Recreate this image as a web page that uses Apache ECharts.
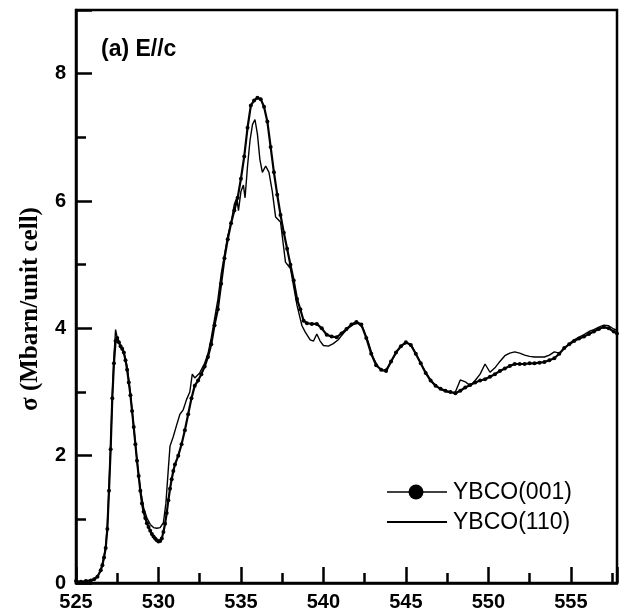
<!DOCTYPE html>
<html>
<head>
<meta charset="utf-8">
<script src="https://cdn.jsdelivr.net/npm/echarts@6/dist/echarts.min.js"></script>
<style>
html,body{margin:0;padding:0;background:#fff;}
#chart{width:620px;height:616px;}
</style>
</head>
<body>
<div id="chart"></div>
<script>
// YBCO(001) — energy (eV) and cross-section (Mbarn/unit cell)
var energy001 = [525.0,525.3,525.6,525.9,526.1,526.3,526.5,526.6,526.7,526.8,526.9,527.0,527.1,527.2,527.3,527.4,527.5,527.6,527.7,527.8,527.9,528.0,528.1,528.2,528.3,528.4,528.5,528.6,528.7,528.8,528.9,529.0,529.1,529.2,529.3,529.4,529.5,529.6,529.7,529.8,529.9,530.0,530.1,530.2,530.3,530.4,530.5,530.6,530.7,530.8,530.9,531.0,531.2,531.4,531.6,531.8,532.0,532.2,532.4,532.6,532.8,533.0,533.2,533.4,533.6,533.8,534.0,534.2,534.4,534.6,534.8,535.0,535.2,535.4,535.6,535.8,536.0,536.2,536.4,536.6,536.8,537.0,537.2,537.4,537.6,537.8,538.0,538.2,538.4,538.6,538.8,539.0,539.3,539.6,539.9,540.2,540.5,540.8,541.1,541.4,541.7,542.0,542.3,542.6,542.9,543.2,543.5,543.8,544.1,544.4,544.7,545.0,545.3,545.6,545.9,546.2,546.5,546.8,547.1,547.4,547.7,548.0,548.3,548.6,548.9,549.2,549.5,549.8,550.1,550.4,550.7,551.0,551.3,551.6,551.9,552.2,552.5,552.8,553.1,553.4,553.7,554.0,554.3,554.6,554.9,555.2,555.5,555.8,556.1,556.4,556.7,557.0,557.3,557.6,557.8];
var sigma001 = [0.03,0.02,0.03,0.04,0.06,0.10,0.20,0.28,0.40,0.55,0.85,1.45,2.10,2.90,3.45,3.80,3.85,3.78,3.72,3.68,3.62,3.50,3.35,3.15,2.95,2.70,2.45,2.18,1.92,1.68,1.45,1.25,1.12,1.02,0.94,0.88,0.82,0.77,0.73,0.70,0.67,0.65,0.66,0.70,0.80,0.93,1.10,1.30,1.48,1.63,1.76,1.86,2.00,2.18,2.40,2.65,2.90,3.10,3.18,3.28,3.40,3.55,3.75,4.05,4.30,4.70,5.10,5.40,5.65,5.85,6.05,6.35,6.70,7.15,7.50,7.58,7.62,7.60,7.48,7.25,6.85,6.45,6.10,5.78,5.50,5.25,5.00,4.75,4.46,4.30,4.12,4.08,4.07,4.07,4.00,3.90,3.87,3.86,3.92,3.99,4.06,4.10,4.06,3.85,3.60,3.42,3.35,3.33,3.48,3.62,3.72,3.78,3.74,3.60,3.45,3.30,3.18,3.10,3.05,3.02,3.00,2.98,3.02,3.07,3.11,3.15,3.18,3.20,3.24,3.28,3.33,3.37,3.41,3.44,3.44,3.44,3.45,3.45,3.46,3.47,3.50,3.53,3.60,3.69,3.75,3.80,3.84,3.87,3.91,3.95,3.99,4.02,4.00,3.95,3.92];

// YBCO(110)
var energy110 = [525.0,525.5,526.0,526.3,526.5,526.7,526.8,526.9,527.0,527.1,527.2,527.3,527.4,527.5,527.7,527.9,528.1,528.3,528.5,528.7,528.9,529.1,529.3,529.5,529.7,529.9,530.1,530.3,530.45,530.6,530.7,530.9,531.1,531.3,531.5,531.7,531.9,532.05,532.2,532.5,532.8,533.0,533.2,533.4,533.6,533.8,534.0,534.2,534.4,534.6,534.75,534.85,535.0,535.15,535.25,535.4,535.55,535.7,535.85,536.0,536.15,536.3,536.5,536.7,536.9,537.1,537.4,537.7,538.0,538.2,538.4,538.7,538.9,539.2,539.4,539.6,539.8,540.0,540.3,540.6,540.9,541.2,541.5,541.8,542.1,542.4,542.7,543.0,543.3,543.6,543.9,544.2,544.5,544.8,545.1,545.4,545.7,546.0,546.3,546.6,546.9,547.2,547.5,547.8,548.0,548.3,548.6,548.9,549.2,549.5,549.8,550.1,550.4,550.7,551.0,551.3,551.6,551.9,552.2,552.5,552.8,553.1,553.4,553.7,554.0,554.3,554.6,554.9,555.2,555.5,555.8,556.1,556.4,556.7,557.0,557.3,557.6,557.8];
var sigma110 = [0.02,0.02,0.05,0.10,0.20,0.42,0.58,0.90,1.50,2.15,2.95,3.55,3.98,3.85,3.72,3.62,3.40,2.98,2.45,1.92,1.48,1.18,1.02,0.92,0.87,0.86,0.87,0.95,1.25,1.80,2.15,2.30,2.48,2.65,2.72,2.88,3.00,3.28,3.22,3.30,3.45,3.60,3.85,4.15,4.45,4.85,5.15,5.45,5.65,5.95,6.05,5.85,6.15,6.25,6.05,6.55,6.95,7.20,7.28,7.05,6.65,6.45,6.55,6.45,6.15,5.75,5.67,5.04,4.94,4.65,4.36,4.04,3.94,3.82,3.80,3.91,3.80,3.73,3.72,3.76,3.82,3.92,4.00,4.06,4.08,4.00,3.80,3.55,3.40,3.33,3.38,3.52,3.65,3.74,3.77,3.70,3.55,3.40,3.27,3.15,3.08,3.03,3.00,2.99,3.00,3.19,3.16,3.10,3.18,3.28,3.44,3.31,3.38,3.48,3.57,3.61,3.63,3.61,3.58,3.56,3.55,3.55,3.55,3.58,3.63,3.61,3.68,3.76,3.82,3.86,3.90,3.95,3.98,4.02,4.05,4.04,3.99,3.97];

var seriesNames = ['YBCO(001)', 'YBCO(110)'];
var xTicks = [525, 530, 535, 540, 545, 550, 555];
var yTicks = [0, 2, 4, 6, 8];
var panelLabel = '(a) E//c';
var yTitle = 'σ (Mbarn/unit cell)';

function pairs(xs, ys) { return xs.map(function (x, i) { return [x, ys[i]]; }); }

var chart = echarts.init(document.getElementById('chart'));
var legendFont = '23px "Liberation Sans", Arial, sans-serif';
chart.setOption({
  animation: false,
  grid: {left: 76, right: 3, top: 10, bottom: 33, show: true, borderColor: '#000', borderWidth: 2.5},
  xAxis: {
    type: 'value', min: 525, max: 557.8, interval: 5,
    axisLine: {show: true, onZero: false, lineStyle: {color: '#000', width: 2.5}},
    axisTick: {show: true, inside: true, length: 16, lineStyle: {color: '#000', width: 2.5}},
    minorTick: {show: true, splitNumber: 2, length: 10, lineStyle: {color: '#000', width: 2.5}},
    axisLabel: {
      margin: 9, showMaxLabel: false, color: '#000',
      fontFamily: 'Liberation Sans, Arial, sans-serif', fontWeight: 'bold', fontSize: 20,
      formatter: function (v) { return xTicks.indexOf(v) >= 0 ? String(v) : ''; }
    },
    splitLine: {show: false}
  },
  yAxis: {
    type: 'value', min: 0, max: 9, interval: 2,
    axisLine: {show: true, onZero: false, lineStyle: {color: '#000', width: 2.5}},
    axisTick: {show: true, inside: true, length: 16, lineStyle: {color: '#000', width: 2.5}},
    minorTick: {show: true, splitNumber: 2, length: 10, lineStyle: {color: '#000', width: 2.5}},
    axisLabel: {
      margin: 10, showMaxLabel: false, color: '#000',
      fontFamily: 'Liberation Sans, Arial, sans-serif', fontWeight: 'bold', fontSize: 20,
      formatter: function (v) { return yTicks.indexOf(v) >= 0 ? String(v) : ''; }
    },
    splitLine: {show: false}
  },
  series: [{
    name: seriesNames[1], type: 'line',
    data: pairs(energy110, sigma110), showSymbol: false, symbol: 'none',
    lineStyle: {color: '#000', width: 1.4}, itemStyle: {color: '#000'}, z: 2
  }, {
    name: seriesNames[0], type: 'line',
    data: pairs(energy001, sigma001), symbol: 'circle', symbolSize: 4, showSymbol: true,
    lineStyle: {color: '#000', width: 2.2}, itemStyle: {color: '#000'}, z: 3
  }],
  graphic: [{
    type: 'text', left: 101, top: 38,
    style: {text: panelLabel, fill: '#000', font: 'bold 23px "Liberation Sans", Arial, sans-serif'}
  }, {
    type: 'text', x: 31, y: 309, rotation: Math.PI / 2,
    style: {text: yTitle, fill: '#000', font: 'bold 25px "Liberation Serif", "Times New Roman", serif', align: 'center', verticalAlign: 'middle'}
  },
  {type: 'line', shape: {x1: 387, y1: 492, x2: 447, y2: 492}, style: {stroke: '#000', lineWidth: 1.5}},
  {type: 'circle', shape: {cx: 416, cy: 492, r: 7.5}, style: {fill: '#000'}},
  {type: 'text', x: 453, y: 493, style: {text: seriesNames[0], fill: '#000', font: legendFont, verticalAlign: 'middle'}},
  {type: 'line', shape: {x1: 387, y1: 522, x2: 447, y2: 522}, style: {stroke: '#000', lineWidth: 1.8}},
  {type: 'text', x: 453, y: 523, style: {text: seriesNames[1], fill: '#000', font: legendFont, verticalAlign: 'middle'}}
  ]
});
</script>
</body>
</html>
